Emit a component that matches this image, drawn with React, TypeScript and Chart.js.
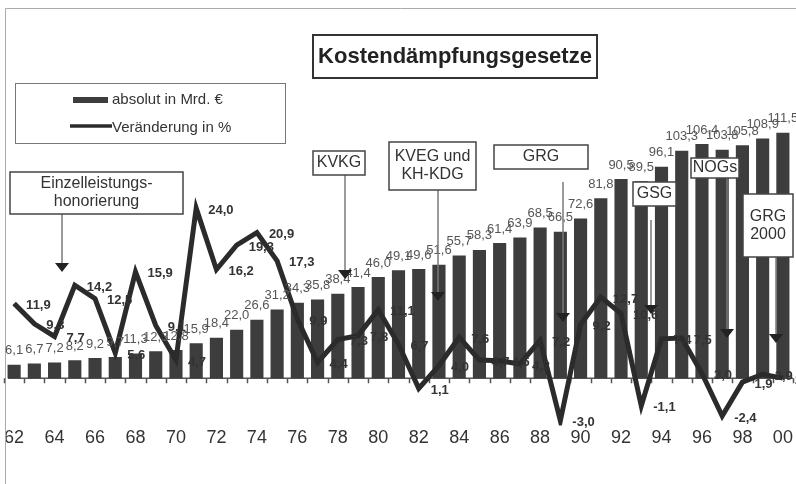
import React, { useEffect, useRef } from "react";
import { Chart, registerables } from "chart.js";

Chart.register(...registerables);

const years = ["62","63","64","65","66","67","68","69","70","71","72","73","74","75","76","77","78","79","80","81","82","83","84","85","86","87","88","89","90","91","92","93","94","95","96","97","98","99","00"];

const absolute = [6.1, 6.7, 7.2, 8.2, 9.2, 9.7, 11.3, 12.3, 12.8, 15.9, 18.4, 22.0, 26.6,
  31.2, 34.3, 35.8, 38.4, 41.4, 46.0, 49.1, 49.6, 51.6, 55.7, 58.3, 61.4, 63.9,
  68.5, 66.5, 72.6, 81.8, 90.5, 89.5, 96.1, 103.3, 106.4, 103.8, 105.8, 108.9, 111.5];

const change = [11.9, 9.3, 7.7, 14.2, 12.5, 5.6, 15.9, 9.1, 4.7, 24.0, 16.2, 19.3, 20.9,
  17.3, 9.9, 4.4, 7.3, 7.8, 11.1, 6.7, 1.1, 4.0, 7.6, 4.7, 4.6, 4.2,
  7.2, -3.0, 9.2, 12.7, 10.6, -1.1, 7.4, 7.5, 3.0, -2.4, 1.9, 2.9, 2.4];

const seriesNames = ["absolut in Mrd. €", "Veränderung in %"];
const chartTitle = "Kostendämpfungsgesetze";

const laws = [
  { lines: ["Einzelleistungs-", "honorierung"], box: [10, 172, 183, 214], arrow: [62, 214, 272] },
  { lines: ["KVKG"], box: [313, 151, 365, 175], arrow: [345, 175, 279] },
  { lines: ["KVEG und", "KH-KDG"], box: [389, 142, 476, 190], arrow: [438, 190, 301] },
  { lines: ["GRG"], box: [494, 145, 588, 169], arrow: [563, 182, 322] },
  { lines: ["GSG"], box: [633, 182, 676, 206], arrow: [651, 220, 314] },
  { lines: ["NOGs"], box: [691, 158, 739, 178], arrow: [727, 178, 338] },
  { lines: ["GRG", "2000"], box: [743, 194, 793, 257], arrow: [776, 257, 343] },
];

const FONT = "'Liberation Sans', Arial, sans-serif";
const NARROW = "'Liberation Sans Narrow', 'Liberation Sans', Arial, sans-serif";

const fmt = (v: number) => v.toFixed(1).replace(".", ",");

const decorPlugin = {
  id: "decor",
  beforeDatasetsDraw(chart: any) {
    const ctx = chart.ctx;
    const ys = chart.scales.y;
    const xs = chart.scales.x;
    const base = ys.getPixelForValue(0);
    ctx.save();
    // frame
    ctx.strokeStyle = "#aaaaaa";
    ctx.lineWidth = 1;
    ctx.beginPath();
    ctx.moveTo(796, 8.5);
    ctx.lineTo(5.5, 8.5);
    ctx.lineTo(5.5, 484);
    ctx.stroke();
    // axis line + ticks
    ctx.strokeStyle = "#555555";
    ctx.lineWidth = 1.5;
    ctx.beginPath();
    ctx.moveTo(8, base);
    ctx.lineTo(chart.chartArea.right, base);
    const step = xs.getPixelForValue(1) - xs.getPixelForValue(0);
    for (let i = 0; i <= years.length; i++) {
      const x = Math.round(xs.getPixelForValue(0) - step / 2 + i * step) + 0.5;
      ctx.moveTo(x, base);
      ctx.lineTo(x, base + 5);
    }
    ctx.stroke();
    ctx.restore();
  },
  afterDatasetsDraw(chart: any) {
    const ctx = chart.ctx;
    ctx.save();
    // bar labels
    const barMeta = chart.getDatasetMeta(0);
    ctx.font = `13px ${FONT}`;
    ctx.fillStyle = "#555555";
    ctx.textAlign = "center";
    ctx.textBaseline = "middle";
    barMeta.data.forEach((el: any, i: number) => {
      ctx.fillText(fmt(absolute[i]), el.x, el.y - 14);
    });
    // line labels
    const lineMeta = chart.getDatasetMeta(1);
    ctx.font = `bold 13px ${FONT}`;
    ctx.fillStyle = "#333333";
    ctx.textAlign = "left";
    lineMeta.data.forEach((el: any, i: number) => {
      ctx.fillText(fmt(change[i]), el.x + 12, el.y + 2);
    });

    // annotation boxes with arrows
    laws.forEach((a) => {
      const [x1, y1, x2, y2] = a.box;
      const [ax, ay1, ay2] = a.arrow;
      ctx.strokeStyle = "#7a7a7a";
      ctx.lineWidth = 1.5;
      ctx.beginPath();
      ctx.moveTo(ax, ay1);
      ctx.lineTo(ax, ay2 - 8);
      ctx.stroke();
      ctx.fillStyle = "#222222";
      ctx.beginPath();
      ctx.moveTo(ax - 7, ay2 - 9);
      ctx.lineTo(ax + 7, ay2 - 9);
      ctx.lineTo(ax, ay2);
      ctx.closePath();
      ctx.fill();

      ctx.fillStyle = "#ffffff";
      ctx.fillRect(x1, y1, x2 - x1, y2 - y1);
      ctx.strokeStyle = "#444444";
      ctx.lineWidth = 1.5;
      ctx.strokeRect(x1, y1, x2 - x1, y2 - y1);
      ctx.fillStyle = "#333333";
      ctx.font = `16px ${FONT}`;
      ctx.textAlign = "center";
      ctx.textBaseline = "middle";
      const cx = (x1 + x2) / 2;
      const cy = (y1 + y2) / 2;
      const lh = 18;
      a.lines.forEach((t, k) => {
        ctx.fillText(t, cx, cy + (k - (a.lines.length - 1) / 2) * lh);
      });
    });

    // title box
    ctx.fillStyle = "#ffffff";
    ctx.fillRect(313, 35, 284, 43);
    ctx.strokeStyle = "#333333";
    ctx.lineWidth = 2;
    ctx.strokeRect(313, 35, 284, 43);
    ctx.fillStyle = "#222222";
    ctx.font = `bold 22px ${FONT}`;
    ctx.textAlign = "center";
    ctx.textBaseline = "middle";
    ctx.fillText(chartTitle, 455, 57);

    // legend
    ctx.fillStyle = "#ffffff";
    ctx.fillRect(15, 83, 270, 60);
    ctx.strokeStyle = "#777777";
    ctx.lineWidth = 1;
    ctx.strokeRect(15.5, 83.5, 270, 60);
    ctx.fillStyle = "#3d3d3d";
    ctx.fillRect(73, 97, 35, 6);
    ctx.strokeStyle = "#2b2b2b";
    ctx.lineWidth = 3.5;
    ctx.beginPath();
    ctx.moveTo(70, 126);
    ctx.lineTo(112, 126);
    ctx.stroke();
    ctx.fillStyle = "#333333";
    ctx.font = `15px ${FONT}`;
    ctx.textAlign = "left";
    ctx.textBaseline = "middle";
    ctx.fillText(seriesNames[0], 112, 100);
    ctx.fillText(seriesNames[1], 112, 128);
    ctx.restore();
  },
};

export default function App() {
  const ref = useRef<HTMLCanvasElement | null>(null);
  useEffect(() => {
    if (!ref.current) return;
    const chart = new Chart(ref.current, {
      data: {
        labels: years,
        datasets: [
          {
            type: "bar",
            label: seriesNames[0],
            data: absolute,
            yAxisID: "y",
            backgroundColor: "#3d3d3d",
            barPercentage: 0.65,
            categoryPercentage: 1,
            order: 2,
          },
          {
            type: "line",
            label: seriesNames[1],
            data: change,
            yAxisID: "y1",
            borderColor: "#2b2b2b",
            borderWidth: 5,
            pointRadius: 0,
            tension: 0,
            fill: false,
            order: 1,
          },
        ],
      } as any,
      options: {
        responsive: false,
        animation: false,
        layout: { padding: { left: 4, right: 3, top: 20, bottom: 33 } },
        plugins: { legend: { display: false }, title: { display: false }, tooltip: { enabled: false } },
        scales: {
          x: {
            offset: true,
            grid: { display: false, drawTicks: false },
            border: { display: false },
            ticks: {
              autoSkip: false,
              maxRotation: 0,
              minRotation: 0,
              padding: 2,
              color: "#333333",
              font: { size: 18, family: NARROW },
              callback: (_v: any, i: number) => (i % 2 === 0 ? years[i] : ""),
            },
          },
          y: { display: false, min: -21.4, max: 162.7 },
          y1: { display: false, min: -3.6, max: 47.9 },
        },
      } as any,
      plugins: [decorPlugin],
    });
    return () => chart.destroy();
  }, []);
  return (
    <div style={{ position: "absolute", left: 0, top: 0, width: 796, height: 484, background: "#fff" }}>
      <canvas ref={ref} width={796} height={484} />
    </div>
  );
}
